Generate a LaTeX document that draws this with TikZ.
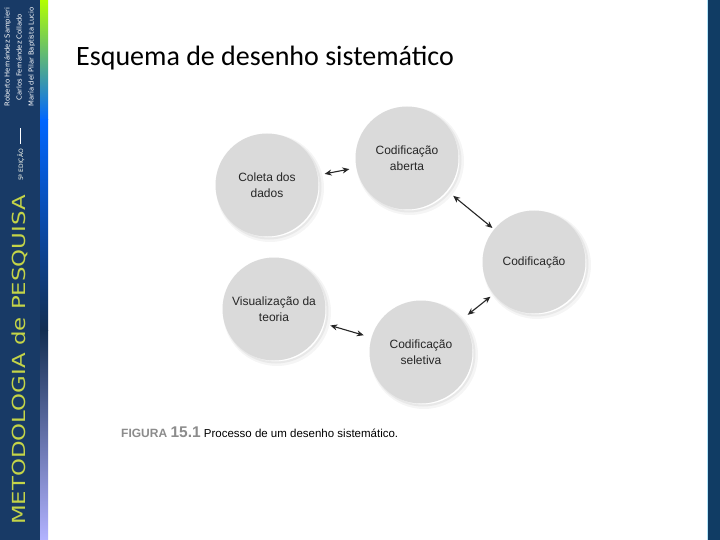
\documentclass[tikz,border=0pt]{standalone}
\usepackage{fontspec}
\usepackage{graphicx}
\setmainfont{Liberation Sans}
\newfontfamily\titlefont{Carlito}
\newfontfamily\coverfont{DejaVu Sans}
\usetikzlibrary{arrows.meta}
\definecolor{navy}{RGB}{24,58,102}
\definecolor{navyR}{RGB}{16,60,100}
\definecolor{lime}{RGB}{196,212,72}
\definecolor{circ}{RGB}{218,218,218}
\definecolor{capgray}{RGB}{140,140,140}
\begin{document}
\begin{tikzpicture}[x=1pt,y=-1pt,
  bubble/.style={circle, fill=circ, minimum size=103pt, inner sep=0pt, align=center,
    font=\fontsize{12}{15.5}\selectfont, text=black!85,
    preaction={draw=black, line width=5pt, opacity=0.04, transform canvas={xshift=3pt,yshift=-3pt}},
    preaction={draw=black, line width=2pt, opacity=0.05, transform canvas={xshift=2pt,yshift=-2pt}}},
  link/.style={{Stealth[length=7pt,width=6pt]}-{Stealth[length=7pt,width=6pt]}, line width=1.1pt, black!85}
]
\useasboundingbox (0,0) rectangle (720,540);
\fill[white] (0,0) rectangle (720,540);
% left cover strip
\fill[navy] (0,0) rectangle (40,540);
\shade[top color=yellow!70!green, bottom color=cyan!40!blue] (40,0) rectangle (48,120);
\shade[top color=cyan!40!blue, bottom color=navy!80!black] (40,120) rectangle (48,330);
\shade[top color=navy!80!black, bottom color=blue!30!white] (40,330) rectangle (48,540);
\node[rotate=90, text=lime, font=\coverfont\fontsize{18}{18}\selectfont, inner sep=0pt] (cover) at (20,360) {\scalebox{1.27}[1]{METODOLOGIA de PESQUISA}};
\node[rotate=90, text=white!90!lime, font=\coverfont\fontsize{6}{6}\selectfont, inner sep=0pt] (ed) at (21,165) {5ª EDIÇÃO};
\draw[white, line width=0.6pt] (20,128) -- (20,144);
\node[rotate=90, text=white, font=\coverfont\fontsize{6.8}{12}\selectfont, align=center, inner sep=0pt] (authors) at (19.5,57)
  {Roberto Hernández Sampieri\\Carlos Fernández Collado\\María del Pilar Baptista Lucio};
% right strip
\fill[navyR] (707,0) rectangle (720,540);
\draw[cyan!30!white, line width=0.6pt] (707,0) -- (707,540);
% title
\node[anchor=base west, inner sep=0pt, font=\titlefont\fontsize{28}{28}\selectfont] (title) at (76,66) {Esquema de desenho sistemático};
% circles
\node[bubble] (coleta) at (267,185) {Coleta dos\\dados};
\node[bubble] (aberta) at (407,158) {Codificação\\aberta};
\node[bubble] (codif) at (534,262) {Codificação};
\node[bubble] (visual) at (274,309) {Visualização da\\teoria};
\node[bubble] (selet) at (421,352) {Codificação\\seletiva};
% arrows
\draw[link, shorten <=7pt, shorten >=7pt] (coleta) -- (aberta);
\draw[link, shorten <=8pt, shorten >=2pt] (aberta) -- (codif);
\draw[link, shorten <=4pt, shorten >=8pt] (codif) -- (selet);
\draw[link, shorten <=7pt, shorten >=8pt] (visual) -- (selet);
% caption
\node[anchor=base west, inner sep=0pt, font=\fontsize{11.5}{13}\selectfont] (caption) at (121,437)
  {{\color{capgray}\bfseries\fontsize{12}{13}\selectfont FIGURA \fontsize{15.5}{15}\selectfont 15.1} Processo de um desenho sistemático.};
\end{tikzpicture}
\end{document}
